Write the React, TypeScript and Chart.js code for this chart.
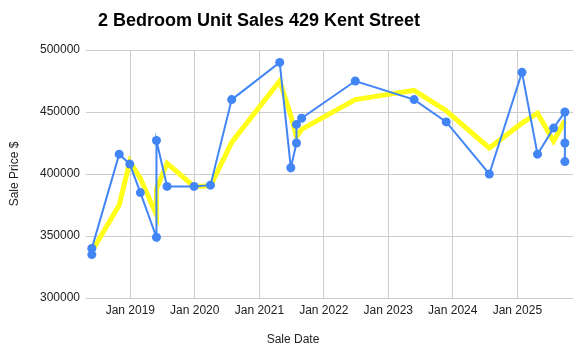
import React, { useEffect, useRef } from "react";
import { Chart, registerables } from "chart.js";

Chart.register(...registerables);

const TITLE = "2 Bedroom Unit Sales 429 Kent Street";
const X_TITLE = "Sale Date";
const Y_TITLE = "Sale Price $";

const SALE_DATES = [
  "2018-05-28", "2018-05-28", "2018-10-30", "2018-12-29", "2019-02-27",
  "2019-05-29", "2019-05-29", "2019-07-28", "2019-12-28", "2020-03-30",
  "2020-07-28", "2021-04-26", "2021-06-28", "2021-07-30", "2021-07-30",
  "2021-08-28", "2022-06-28", "2023-05-27", "2023-11-25", "2024-07-26",
  "2025-01-27", "2025-04-25", "2025-07-25", "2025-09-27", "2025-09-27",
  "2025-09-27",
];
const SALE_PRICES = [
  335000, 340000, 416000, 408000, 385000,
  349000, 427000, 390000, 390000, 391000,
  460000, 490000, 405000, 425000, 440000,
  445000, 475000, 460000, 442000, 400000,
  482000, 416000, 437000, 450000, 425000,
  410000,
];

const TREND_DATES = [
  "2018-05-28", "2018-10-30", "2018-12-29", "2019-02-27", "2019-05-29",
  "2019-05-29", "2019-07-28", "2019-12-28", "2020-03-30", "2020-07-28",
  "2021-04-26", "2021-06-28", "2021-07-30", "2021-08-28", "2022-06-28",
  "2023-05-27", "2023-11-25", "2024-07-26", "2025-01-27", "2025-04-25",
  "2025-07-25", "2025-09-27",
];
const TREND_PRICES = [
  337500, 375000, 410000, 396500, 367000,
  388000, 408500, 390000, 390500, 425500,
  475000, 447000, 430000, 436000, 460000,
  467500, 451000, 421000, 441000, 449000,
  426500, 443000,
];

const TICK_YEARS = [2019, 2020, 2021, 2022, 2023, 2024, 2025];
const X_MIN_DATE = "2018-04-25";
const X_MAX_DATE = "2025-11-12";
const Y_MIN = 300000;
const Y_MAX = 500000;
const Y_STEP = 50000;

const FONT = '"Liberation Sans", Arial, sans-serif';

const ms = (d: string) => Date.parse(d + "T00:00:00Z");

export default function App() {
  const ref = useRef<HTMLCanvasElement | null>(null);

  useEffect(() => {
    if (!ref.current) return;
    const textPlugin = {
      id: "textPlugin",
      afterDraw(chart: any) {
        const ctx = chart.ctx;
        ctx.save();
        ctx.textAlign = "center";
        ctx.textBaseline = "middle";
        ctx.fillStyle = "#000";
        ctx.font = `bold 18px ${FONT}`;
        ctx.fillText(TITLE, 259, 21);
        ctx.fillStyle = "#222";
        ctx.font = `12px ${FONT}`;
        ctx.fillText(X_TITLE, 293, 340);
        ctx.restore();
      },
    };
    const chart = new Chart(ref.current, {
      type: "line",
      data: {
        datasets: [
          {
            label: "Sale Price",
            data: SALE_DATES.map((d, i) => ({ x: ms(d), y: SALE_PRICES[i] })),
            borderColor: "#4285F4",
            backgroundColor: "#4285F4",
            borderWidth: 2,
            pointRadius: 4.5,
            pointBorderWidth: 0,
            pointBackgroundColor: "#4285F4",
            tension: 0,
            order: 1,
          },
          {
            label: "Trend",
            data: TREND_DATES.map((d, i) => ({ x: ms(d), y: TREND_PRICES[i] })),
            borderColor: "#FFFF1A",
            backgroundColor: "#FFFF1A",
            borderWidth: 5,
            pointRadius: 0,
            tension: 0,
            borderJoinStyle: "miter",
            order: 2,
          },
        ],
      },
      options: {
        responsive: false,
        animation: false,
        layout: { padding: { top: 50, right: 13, left: 0, bottom: 0 } },
        plugins: {
          legend: { display: false },
          tooltip: { enabled: false },
          title: { display: false },
        },
        scales: {
          x: {
            type: "linear",
            min: ms(X_MIN_DATE),
            max: ms(X_MAX_DATE),
            afterBuildTicks: (scale: any) => {
              scale.ticks = TICK_YEARS.map((y) => ({ value: ms(`${y}-01-01`) }));
            },
            afterFit: (scale: any) => {
              scale.height = 58;
            },
            ticks: {
              autoSkip: false,
              maxRotation: 0,
              padding: 5,
              color: "#222",
              font: { family: FONT, size: 12 },
              callback: (v: any) => "Jan " + new Date(v).getUTCFullYear(),
            },
            grid: { color: "#cccccc", drawTicks: false, lineWidth: 1 },
            border: { display: false },
          },
          y: {
            min: Y_MIN,
            max: Y_MAX,
            afterFit: (scale: any) => {
              scale.width = 86;
            },
            ticks: {
              stepSize: Y_STEP,
              padding: 6,
              color: "#222",
              font: { family: FONT, size: 12 },
              callback: (v: any) => String(v),
            },
            grid: { color: "#cccccc", drawTicks: false, lineWidth: 1 },
            border: { display: false },
            title: {
              display: true,
              text: Y_TITLE,
              color: "#222",
              font: { family: FONT, size: 12 },
              padding: { top: 7, bottom: 0 },
            },
          },
        },
      },
      plugins: [textPlugin],
    } as any);
    return () => chart.destroy();
  }, []);

  return (
    <div style={{ position: "absolute", left: 0, top: 0, width: 586, height: 356, background: "#fff" }}>
      <canvas ref={ref} width={586} height={356} style={{ display: "block" }} />
    </div>
  );
}
